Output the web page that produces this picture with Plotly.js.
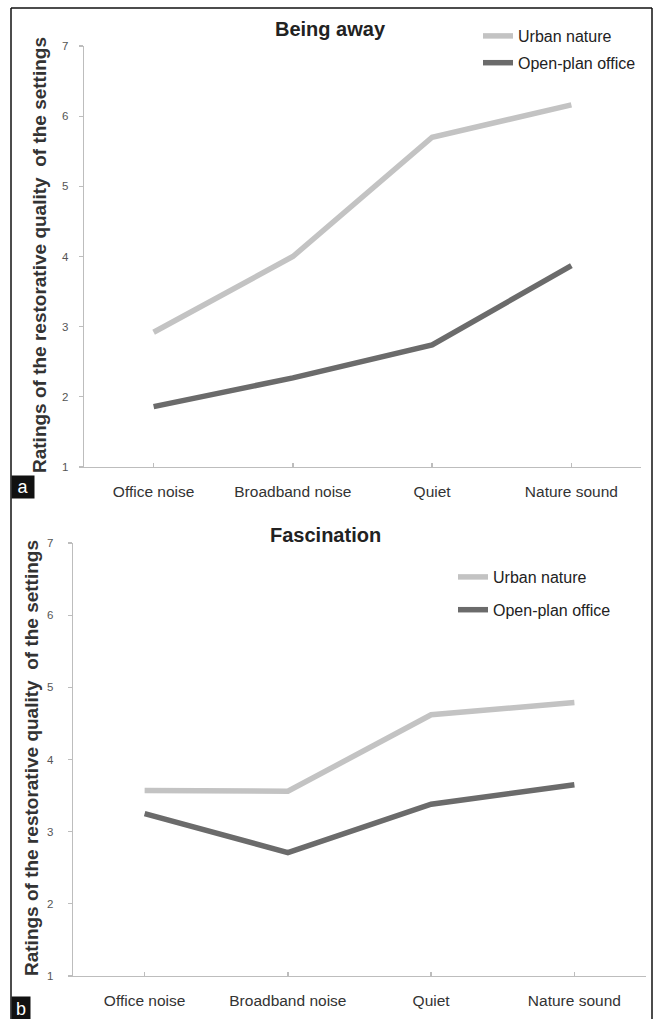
<!DOCTYPE html>
<html>
<head>
<meta charset="utf-8">
<script src="https://cdn.plot.ly/plotly-3.0.1.min.js"></script>
<style>html,body{margin:0;padding:0;background:#fff}#chart{width:654px;height:1019px}</style>
</head>
<body>
<div id="chart"></div>
<script>
// Data
const categories = ["Office noise", "Broadband noise", "Quiet", "Nature sound"];
const seriesNames = ["Urban nature", "Open-plan office"];
// Panel a: Being away
const beingAwayUrban = [2.92, 4.00, 5.70, 6.16];
const beingAwayOffice = [1.86, 2.27, 2.74, 3.87];
// Panel b: Fascination
const fascinationUrban = [3.57, 3.56, 4.62, 4.79];
const fascinationOffice = [3.25, 2.71, 3.38, 3.65];
const yTicks = [1, 2, 3, 4, 5, 6, 7];
const panelTitles = ["Being away", "Fascination"];
const yTitle = "Ratings of the restorative quality  of the settings";

const W = 654, H = 1019;
const px = v => v / W;
const py = v => 1 - v / H;

const lightCol = "#c3c3c3";
const darkCol = "#6b6b6b";
const lineW = 5.5;

const traces = [
  {x: categories, y: beingAwayUrban, name: seriesNames[0], type: "scatter", mode: "lines",
   line: {color: lightCol, width: lineW}, xaxis: "x", yaxis: "y", legend: "legend", legendgroup: "a1"},
  {x: categories, y: beingAwayOffice, name: seriesNames[1], type: "scatter", mode: "lines",
   line: {color: darkCol, width: lineW}, xaxis: "x", yaxis: "y", legend: "legend", legendgroup: "a2"},
  {x: categories, y: fascinationUrban, name: seriesNames[0], type: "scatter", mode: "lines",
   line: {color: lightCol, width: lineW}, xaxis: "x2", yaxis: "y2", legend: "legend2", legendgroup: "b1"},
  {x: categories, y: fascinationOffice, name: seriesNames[1], type: "scatter", mode: "lines",
   line: {color: darkCol, width: lineW}, xaxis: "x2", yaxis: "y2", legend: "legend2", legendgroup: "b2"}
];

const fontFam = "Liberation Sans, Arial, sans-serif";
const axisCol = "#bdbdbd";

function xAxis(domain, anchor) {
  return {
    domain: domain, anchor: anchor, type: "category", range: [-0.5, 3.5],
    showline: true, linecolor: axisCol, linewidth: 1.3, showgrid: false, zeroline: false,
    ticks: "inside", ticklen: 4, tickcolor: axisCol, tickwidth: 1.3,
    tickfont: {family: fontFam, size: 15.5, color: "#333"}, ticklabelstandoff: 10,
    fixedrange: true
  };
}
function yAxis(domain, anchor, standoff) {
  return {
    domain: domain, anchor: anchor, range: [1, 7], tickvals: yTicks,
    showline: true, linecolor: axisCol, linewidth: 1.3, showgrid: false, zeroline: false,
    ticks: "outside", ticklen: 4, tickcolor: axisCol, tickwidth: 1.3,
    tickfont: {family: fontFam, size: 11.5, color: "#555"}, ticklabelstandoff: standoff,
    fixedrange: true
  };
}

const layout = {
  width: W, height: H,
  margin: {l: 0, r: 0, t: 0, b: 0},
  paper_bgcolor: "#fff", plot_bgcolor: "rgba(0,0,0,0)",
  showlegend: true,
  xaxis: xAxis([px(84), px(641)], "y"),
  yaxis: yAxis([py(467), py(46)], "x", 8),
  xaxis2: xAxis([px(73), px(646)], "y2"),
  yaxis2: yAxis([py(976), py(543)], "x2", 12),
  legend: {x: px(478), y: py(19), xanchor: "left", yanchor: "top", bgcolor: "rgba(0,0,0,0)",
    font: {family: fontFam, size: 16, color: "#222"}, tracegroupgap: 3, itemwidth: 30},
  legend2: {x: px(453), y: py(560), xanchor: "left", yanchor: "top", bgcolor: "rgba(0,0,0,0)",
    font: {family: fontFam, size: 16, color: "#222"}, tracegroupgap: 9, itemwidth: 30},
  annotations: [
    {text: "<b>" + panelTitles[0] + "</b>", xref: "paper", yref: "paper", x: px(330), y: py(29),
     showarrow: false, font: {family: fontFam, size: 20, color: "#222"}, xanchor: "center", yanchor: "middle"},
    {text: "<b>" + panelTitles[1] + "</b>", xref: "paper", yref: "paper", x: px(325), y: py(535),
     showarrow: false, font: {family: fontFam, size: 20, color: "#222"}, xanchor: "center", yanchor: "middle"},
    {text: "<b>" + yTitle + "</b>", xref: "paper", yref: "paper", x: px(40), y: py(255), textangle: -90,
     showarrow: false, font: {family: fontFam, size: 19, color: "#333"}, xanchor: "center", yanchor: "middle"},
    {text: "<b>" + yTitle + "</b>", xref: "paper", yref: "paper", x: px(31), y: py(758), textangle: -90,
     showarrow: false, font: {family: fontFam, size: 19, color: "#333"}, xanchor: "center", yanchor: "middle"},
    {text: "a", xref: "paper", yref: "paper", x: px(11), y: py(475), xanchor: "left", yanchor: "top",
     showarrow: false, bgcolor: "#111", font: {family: fontFam, size: 18, color: "#fff"},
     width: 18, height: 18, borderpad: 2},
    {text: "b", xref: "paper", yref: "paper", x: px(11), y: py(996), xanchor: "left", yanchor: "top",
     showarrow: false, bgcolor: "#111", font: {family: fontFam, size: 18, color: "#fff"},
     width: 14, height: 19, borderpad: 2}
  ],
  shapes: [
    {type: "line", xref: "paper", yref: "paper", x0: px(11), x1: px(11), y0: py(8), y1: 0, line: {color: "#111", width: 1.5}},
    {type: "line", xref: "paper", yref: "paper", x0: px(11), x1: px(652), y0: py(8), y1: py(8), line: {color: "#111", width: 1.5}},
    {type: "line", xref: "paper", yref: "paper", x0: px(652), x1: px(652), y0: py(8), y1: 0, line: {color: "#111", width: 1.5}}
  ]
};

Plotly.newPlot("chart", traces, layout, {displayModeBar: false, staticPlot: true});
</script>
</body>
</html>
